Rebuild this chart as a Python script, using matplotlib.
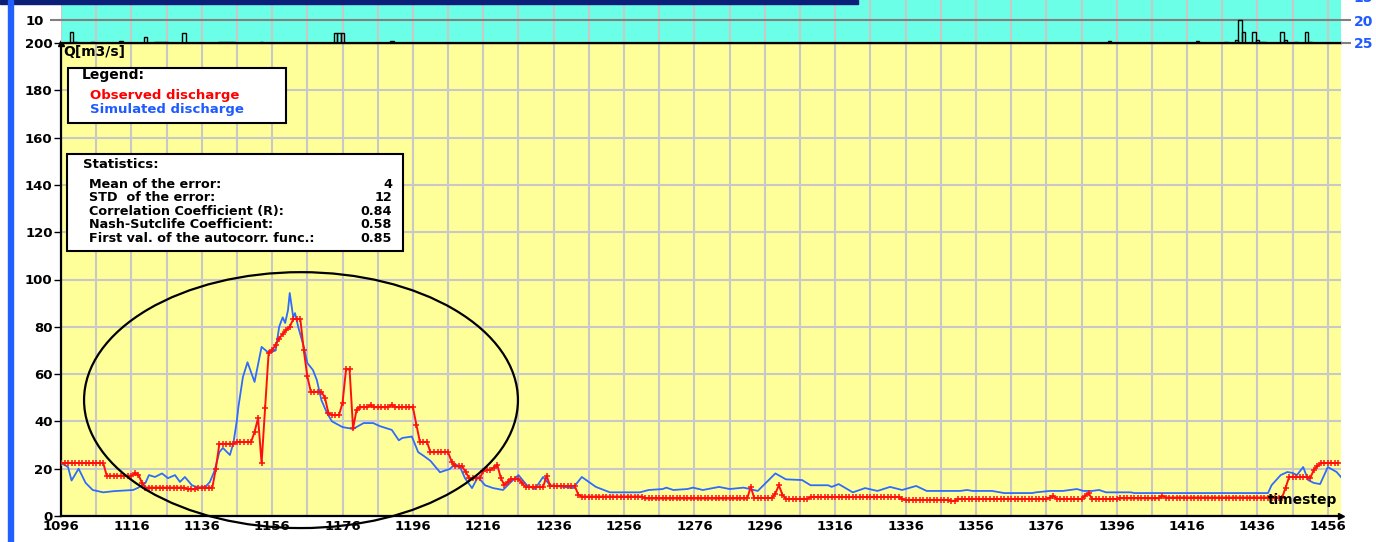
import numpy as np
import matplotlib
matplotlib.use('Agg')
import matplotlib.pyplot as plt
from matplotlib.patches import Rectangle, Ellipse

W, H = 1376, 542

# observed discharge, stored as (level, number of timesteps) runs from t=1096
obs_level = [22.4, 17, 18, 17.5, 14, 12, 11.3, 12, 20, 30.5, 31.3,
             35.5, 41.4, 22.4, 45.7, 69, 70, 72.5, 75, 77, 78.6, 80,
             83.3, 70, 59, 52.5, 50, 43.5, 42.7, 47.8, 62, 37, 45,
             46, 46.8, 46, 47, 46, 38.5, 31.3, 27, 23, 21, 18.6, 16,
             19, 19.5, 19.5, 20.5, 21.5, 16, 13, 14.5, 15.6, 14, 12.3, 17, 12.7, 9,
             8.2, 7.4, 12.3, 7.6, 9.5, 13, 9, 7.2, 8, 7.3, 6.8, 6.4, 7.2,
             7.8, 8.5, 7.2, 8.5, 9.7, 7.2, 7.5, 8.5, 7.8, 12, 16.5, 16, 19.5, 21, 22.4]
obs_len = [13, 8, 1, 1, 1, 12, 3, 5, 1, 5, 5,
           1, 1, 1, 1, 1, 1, 1, 1, 1, 1, 1,
           3, 1, 1, 4, 1, 1, 3, 1, 2, 1, 1,
           3, 1, 5, 1, 6, 1, 3, 6, 1, 3, 1, 4,
           1, 1, 1, 1, 1, 1, 1, 1, 3, 1, 6, 1, 8, 1,
           18, 30, 1, 6, 1, 1, 1, 7, 26, 1, 13, 2, 26,
           1, 1, 8, 1, 1, 8, 12, 1, 34, 1, 6, 1, 1, 1, 6]

# simulated discharge
sim_t = [1096, 1098, 1099, 1101, 1103, 1105, 1108, 1111, 1116.5, 1118, 1120, 1121,
         1122.7, 1124.7, 1126.4, 1128.4, 1129.8, 1131.2, 1133.2, 1135, 1137, 1138.3,
         1139.6, 1141, 1142, 1144, 1145, 1146, 1146.4, 1147.7, 1149, 1151, 1153, 1155,
         1157, 1158, 1159, 1159.7, 1160.5, 1161, 1162, 1162.5, 1163.4, 1165, 1166,
         1167.6, 1168.7, 1170, 1171.6, 1173, 1176, 1179, 1182, 1184.7, 1186.6, 1190,
         1192, 1193, 1195.7, 1197.5, 1199, 1201, 1203.7, 1206.5, 1208, 1209.4, 1210.8,
         1212.8, 1214.5, 1216.5, 1218.8, 1221.6, 1223.6, 1226, 1228.4, 1230.7, 1233,
         1235, 1241.5, 1244, 1248, 1252, 1260.5, 1263, 1267, 1268, 1270, 1274, 1275.6,
         1278.4, 1283, 1286, 1290, 1294, 1299, 1302, 1306.6, 1309, 1314, 1315, 1317,
         1321, 1324.5, 1328, 1331.6, 1335, 1339, 1342, 1351.5, 1353.5, 1355, 1360.6,
         1364, 1372, 1373, 1377, 1380.7, 1384.7, 1386.5, 1389, 1391, 1393, 1400, 1401,
         1439, 1440, 1442.6, 1444.5, 1446, 1447.2, 1449, 1450.4, 1452, 1453.8, 1456,
         1458.5, 1459.7]
sim_q = [22.4, 20.7, 15, 20, 14, 11, 10, 10.5, 11, 12, 14, 17.3,
         16.5, 18, 16, 17.3, 14.4, 16.5, 13, 12, 12.3, 14.4,
         19, 27, 28.8, 25.8, 30.9, 40.6, 46, 58.8, 65, 56.7, 71.5, 69,
         70, 80, 84, 81.6, 87, 94.3, 84, 85.8, 80, 71.5, 64.7,
         61.7, 57.5, 49, 43.5, 40, 37.6, 36.8, 39.3, 39.3, 38, 36.4,
         32, 33, 33.6, 27, 25.5, 23.3, 18.5, 19.9, 22, 20.7, 16,
         11.8, 16.5, 13, 11.8, 11, 14, 17.3, 13, 11.4, 16.5,
         13, 11.8, 16.5, 12.3, 10, 10, 11, 11.4, 12, 11, 11.4, 12,
         11, 12.3, 11.4, 12, 10.6, 18, 15.5, 15.2, 13, 13, 12.3, 13.5,
         10, 11.8, 10.6, 12.3, 11, 12.7, 10.6, 10.6, 11, 10.6, 10.6,
         9.7, 9.7, 10, 10.6, 10.6, 11.4, 10.6, 10.6, 11, 10, 10, 9.7,
         9.7, 13, 17.3, 18.6, 18.2, 17.3, 20.7, 15.2, 14, 13.5, 20.7,
         18.6, 16.5]

# rainfall bars in the top panel
rain_t = [1099, 1100, 1105, 1113, 1120, 1123, 1124, 1125, 1126, 1131, 1141, 1142,
          1143, 1144, 1145, 1153, 1174, 1175, 1176, 1190, 1394, 1419, 1427, 1430,
          1431, 1432, 1435, 1436, 1437, 1438, 1443, 1444, 1447, 1450, 1451]
rain_v = [4.8, 0.4, 0.5, 0.9, 2.6, 0.5, 0.5, 0.5, 0.5, 4.3, 0.6, 0.6,
          0.6, 0.6, 0.6, 0.5, 4.3, 4.3, 4.3, 0.9, 1.0, 1.0, 0.6, 1.3,
          10, 5, 4.8, 1.3, 0.6, 0.6, 5, 1.3, 0.6, 5, 0.6]

stat_names = ['Mean of the error:', 'STD  of the error:', 'Correlation Coefficient (R):',
              'Nash-Sutclife Coefficient:', 'First val. of the autocorr. func.:']
stat_vals = ['4', '12', '0.84', '0.58', '0.85']

obs_q = np.repeat(obs_level, obs_len)
obs_t = 1096 + np.arange(len(obs_q))

yellow = '#FFFF99'
cyan = '#6AFFE6'
grid_c = '#C8C8C8'
red = '#FF1010'
blue = '#2F6BFF'
plt.rcParams['font.family'] = 'DejaVu Sans'
plt.rcParams['font.weight'] = 'bold'

fig = plt.figure(figsize=(W / 100, H / 100), dpi=100)
fig.patch.set_facecolor('white')

def fx(x):
    return x / W

def fy(y):
    return 1 - y / H

xmin, xmax = 1096, 1096 + 1280 / 3.519

# main discharge axes
ax = fig.add_axes([fx(61), 26 / H, 1280 / W, 473 / H])
ax.set_facecolor(yellow)
ax.set_xlim(xmin, xmax)
ax.set_ylim(0, 200)
ax.set_xticks(np.arange(1096, 1457, 20))
ax.set_xticks(np.arange(1106, 1457, 20), minor=True)
ax.set_yticks(np.arange(0, 201, 20))
ax.grid(which='both', color=grid_c, lw=1.5, zorder=0)
ax.set_axisbelow(True)
ax.tick_params(axis='x', which='both', length=0, pad=3, labelsize=9.5)
ax.tick_params(axis='y', length=5, width=1, pad=1, labelsize=9.5)
for lab in ax.get_xticklabels() + ax.get_yticklabels():
    lab.set_fontweight('bold')
for s in ['left', 'bottom', 'top']:
    ax.spines[s].set_linewidth(1.6)
ax.spines['right'].set_visible(False)

ax.plot(sim_t, sim_q, color=blue, lw=1.3, zorder=3)
ax.plot(obs_t, obs_q, color=red, lw=1.4, marker='+', ms=5, mew=1.1, zorder=4)

ell = Ellipse((1164.2, 49.0), 123.3, 108.2, fill=False, ec='black', lw=1.6,
              clip_on=False, zorder=6)
ax.add_patch(ell)

ax.plot([xmax], [0], marker='>', color='black', ms=5, clip_on=False, zorder=7)
ax.plot([xmin], [200], marker='^', color='black', ms=4, clip_on=False, zorder=7)
ax.text(1458.6, 6.8, 'timestep', ha='right', va='center', fontsize=10,
        fontweight='bold', zorder=8)
ax.text(1096.6, 196.2, 'Q[m3/s]', ha='left', va='center', fontsize=10,
        fontweight='bold', zorder=8)

# rainfall panel on top
axt = fig.add_axes([fx(61), fy(43), 1280 / W, 46 / H])
axt.set_facecolor(cyan)
axt.set_xlim(xmin, xmax)
axt.set_ylim(0, 20)
axt.set_xticks(np.arange(1096, 1457, 10))
axt.grid(axis='x', color=grid_c, lw=1.5)
axt.set_axisbelow(True)
axt.tick_params(axis='x', length=0, labelbottom=False)
axt.set_yticks([10])
axt.tick_params(axis='y', length=8, width=1.5, color='#808080', pad=4, labelsize=9.5)
for lab in axt.get_yticklabels():
    lab.set_fontweight('bold')
axt.axhline(10, color='#808080', lw=1.5, zorder=1)
axt.bar(rain_t, rain_v, width=1, facecolor='none', edgecolor='black', lw=1, zorder=3)
for s in ['left', 'right', 'top']:
    axt.spines[s].set_visible(False)
axt.spines['bottom'].set_linewidth(1.6)

axr = axt.twinx()
axr.set_ylim(25, 15)
axr.set_yticks([15, 20, 25])
axr.tick_params(axis='y', length=7, width=1.5, color='#808080', pad=2, labelsize=10,
                labelcolor='#1E5AFF')
for lab in axr.get_yticklabels():
    lab.set_fontweight('bold')
for s in ['left', 'right', 'top', 'bottom']:
    axr.spines[s].set_visible(False)

# window decorations
fig.add_artist(Rectangle((0, fy(4)), fx(858), 4 / H, transform=fig.transFigure,
                         color='#0B1F78', zorder=10))
fig.add_artist(Rectangle((fx(8), 0), fx(5), 1, transform=fig.transFigure,
                         color='#2060FF', zorder=10))

# legend box
fig.add_artist(Rectangle((fx(68), fy(123)), fx(286 - 68), (123 - 68) / H,
                         transform=fig.transFigure, fc='white', ec='black', lw=1.5, zorder=10))
fig.text(fx(82), fy(75), 'Legend:', fontsize=10, fontweight='bold', va='center', zorder=11)
fig.text(fx(90), fy(96), 'Observed discharge', fontsize=9.5, fontweight='bold',
         color='#FF0000', va='center', zorder=11)
fig.text(fx(90), fy(109.5), 'Simulated discharge', fontsize=9.5, fontweight='bold',
         color='#1E5AFF', va='center', zorder=11)

# statistics box
fig.add_artist(Rectangle((fx(67), fy(251)), fx(403 - 67), (251 - 154) / H,
                         transform=fig.transFigure, fc='white', ec='black', lw=1.5, zorder=10))
fig.text(fx(83), fy(164), 'Statistics:', fontsize=9.5, fontweight='bold', va='center', zorder=11)
for i, (n, v) in enumerate(zip(stat_names, stat_vals)):
    yy = 184 + i * 13.6
    fig.text(fx(89), fy(yy), n, fontsize=9.2, fontweight='bold', va='center', zorder=11)
    fig.text(fx(392), fy(yy), v, fontsize=9.2, fontweight='bold', va='center',
             ha='right', zorder=11)

fig.savefig('out.png', dpi=100)
